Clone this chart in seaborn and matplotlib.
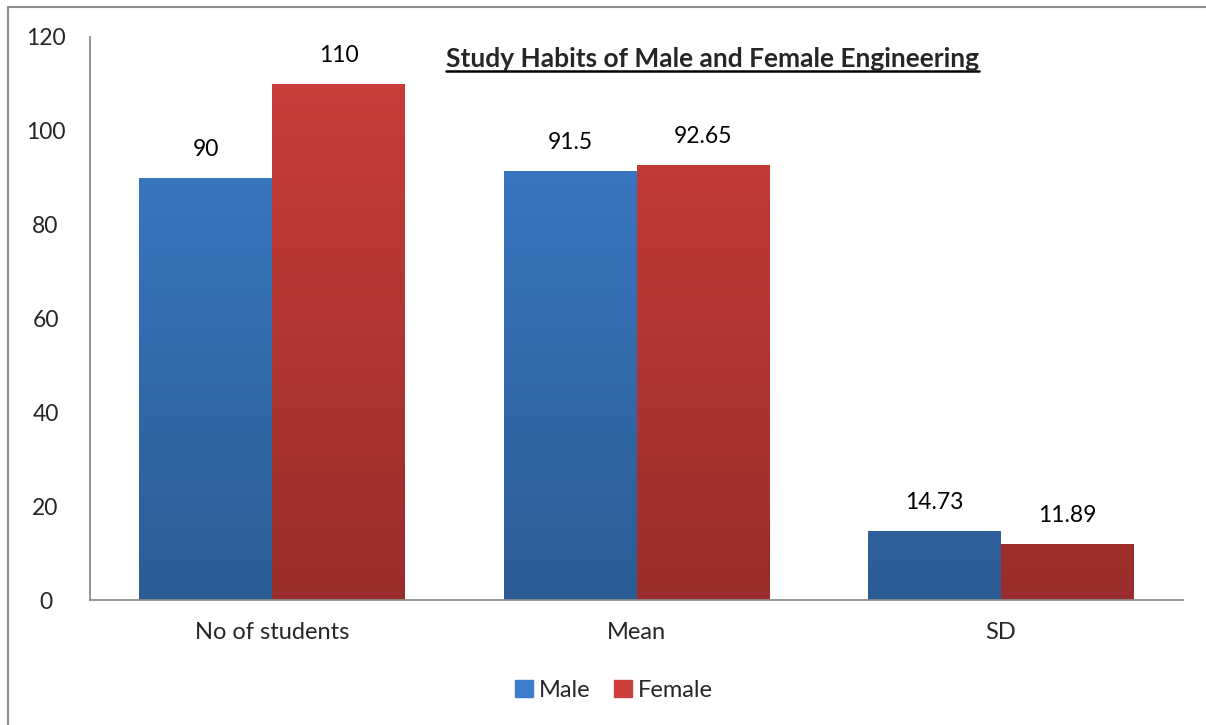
import seaborn as sns
import numpy as np
import matplotlib.pyplot as plt
import pandas as pd
from matplotlib.colors import LinearSegmentedColormap
from matplotlib.patches import Rectangle

categories = ["No of students", "Mean", "SD"]
male = [90, 91.5, 14.73]
female = [110, 92.65, 11.89]
labels_male = ["90", "91.5", "14.73"]
labels_female = ["110", "92.65", "11.89"]

df = pd.DataFrame({
    "cat": categories * 2,
    "val": male + female,
    "sex": ["Male"] * 3 + ["Female"] * 3,
})

sns.set_style("white")
plt.rcParams['font.family'] = ['Lato', 'DejaVu Sans']

fig = plt.figure(figsize=(12.06, 7.25), dpi=100)
ax = fig.add_axes([0.0746, 0.1724, 0.9064, 0.7766])

colors = {"Male": ("#3C7ECC", "#2C5C95"), "Female": ("#CC3E3B", "#992D2B")}
sns.barplot(data=df, x="cat", y="val", hue="sex", hue_order=["Male", "Female"],
            palette={"Male": "#3A7BC8", "Female": "#C83C39"}, width=0.73,
            saturation=1, ax=ax, legend=False)

# vertical gradient on each bar (lighter top, darker bottom)
for cont, sex in zip(ax.containers, ["Male", "Female"]):
    cmap = LinearSegmentedColormap.from_list(sex, [colors[sex][1], colors[sex][0]])
    for p in cont.patches:
        x0, w = p.get_x(), p.get_width()
        grad = np.linspace(0, 1, 256).reshape(-1, 1)
        im = ax.imshow(grad, extent=[x0, x0 + w, 0, 120], origin="lower",
                       aspect="auto", cmap=cmap, zorder=p.get_zorder() + 0.1)
        im.set_clip_path(p)
        p.set_edgecolor("none")

for cont, labs in zip(ax.containers, [labels_male, labels_female]):
    ax.bar_label(cont, labels=labs, padding=13, fontsize=16.5, color="#000000")

ax.set_xlim(-0.5, 2.5)
ax.set_ylim(0, 120)
ax.set_yticks(range(0, 121, 20))
ax.set_xlabel("")
ax.set_ylabel("")
ax.tick_params(axis="y", labelsize=16.5, length=0)
ax.tick_params(axis="x", labelsize=17, pad=16, length=0)
for lab in ax.get_yticklabels():
    lab.set_horizontalalignment("center")
ax.yaxis.set_tick_params(pad=32)
for s in ["top", "right"]:
    ax.spines[s].set_visible(False)
for s in ["left", "bottom"]:
    ax.spines[s].set_color("#8C8C8C")
    ax.spines[s].set_linewidth(1.3)

# title with underline
t = fig.text(0.591, 0.918, "Study Habits of Male and Female Engineering",
             ha="center", va="center", fontsize=19, fontweight="bold")
fig.canvas.draw()
bb = t.get_window_extent().transformed(fig.transFigure.inverted())
fig.add_artist(plt.Line2D([bb.x0, bb.x1], [bb.y0 + 0.001, bb.y0 + 0.001],
                          transform=fig.transFigure, color="black", lw=1.8))

# legend
handles = [Rectangle((0, 0), 1, 1, color=colors[s][0]) for s in ["Male", "Female"]]
fig.legend(handles, ["Male", "Female"], loc="center", bbox_to_anchor=(0.509, 0.048),
           ncol=2, frameon=False, fontsize=17, handlelength=0.75, handleheight=0.75,
           handletextpad=0.25, columnspacing=1.0)

# outer chart border
fig.add_artist(Rectangle((8 / 1206, -0.1), 1.2, 1 - 7 / 725 + 0.1, transform=fig.transFigure,
                         fill=False, edgecolor="#8C8C8C", lw=1.5))

fig.savefig("out.png", dpi=100)
